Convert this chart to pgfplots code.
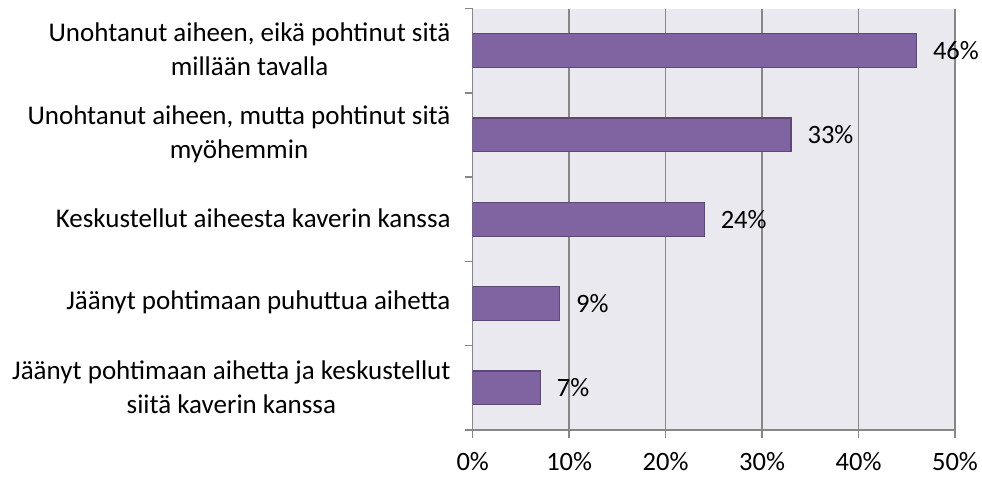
\documentclass[border=0pt]{standalone}
\usepackage{fontspec}
\setmainfont{Carlito}
\usepackage{pgfplots}
\pgfplotsset{compat=1.18}
\definecolor{bgcol}{RGB}{235,233,240}
\definecolor{barcol}{RGB}{128,100,162}
\definecolor{barline}{RGB}{92,71,118}
\definecolor{gridcol}{RGB}{135,135,135}
\begin{document}
\fontsize{27}{32}\selectfont
\begin{tikzpicture}
\begin{axis}[
  name=ax,
  scale only axis,
  width=482.3pt, height=421.5pt,
  xbar,
  bar width=0.4,
  xmin=0, xmax=50,
  ymin=-0.5, ymax=4.5,
  axis background/.style={fill=bgcol},
  axis x line*=bottom, axis y line*=left,
  axis line style={draw=gridcol, line width=1.4pt, -},
  xtick={0,10,20,30,40,50},
  xticklabels={0\%,10\%,20\%,30\%,40\%,50\%},
  ytick={0,1,2,3,4},
  yticklabels={{Jäänyt pohtimaan aihetta ja keskustellut\\siitä kaverin kanssa},
               {Jäänyt pohtimaan puhuttua aihetta},
               {Keskustellut aiheesta kaverin kanssa},
               {Unohtanut aiheen, mutta pohtinut sitä\\myöhemmin},
               {Unohtanut aiheen, eikä pohtinut sitä\\millään tavalla}},
  yticklabel style={align=center, xshift=-5pt, yshift=1pt, font=\fontsize{27}{34}\selectfont},
  xticklabel style={yshift=-5pt, font=\fontsize{26.5}{32}\selectfont},
  minor ytick={-0.5,0.5,1.5,2.5,3.5,4.5},
  tick align=outside,
  major tick length=8pt,
  minor tick length=8pt,
  ytick style={draw=none},
  minor y tick style={draw=gridcol, line width=1.4pt},
  xtick style={draw=gridcol, line width=1.4pt},
  xmajorgrids,
  major grid style={draw=gridcol, line width=1.4pt},
  ymajorgrids=false,
  nodes near coords={\pgfplotspointmeta\%},
  nodes near coords style={anchor=west, xshift=7pt, black, font=\fontsize{26.5}{32}\selectfont},
  point meta=explicit symbolic,
]
\addplot[fill=barcol, draw=barline, line width=1.2pt] table[meta=v] {
x y v
7 0 7
9 1 9
24 2 24
33 3 33
46 4 46
};
\end{axis}
\pgfresetboundingbox
\path[use as bounding box] ([xshift=-472.7pt, yshift=-49pt]ax.south west) rectangle ++(982pt,479pt);
\end{tikzpicture}
\end{document}
